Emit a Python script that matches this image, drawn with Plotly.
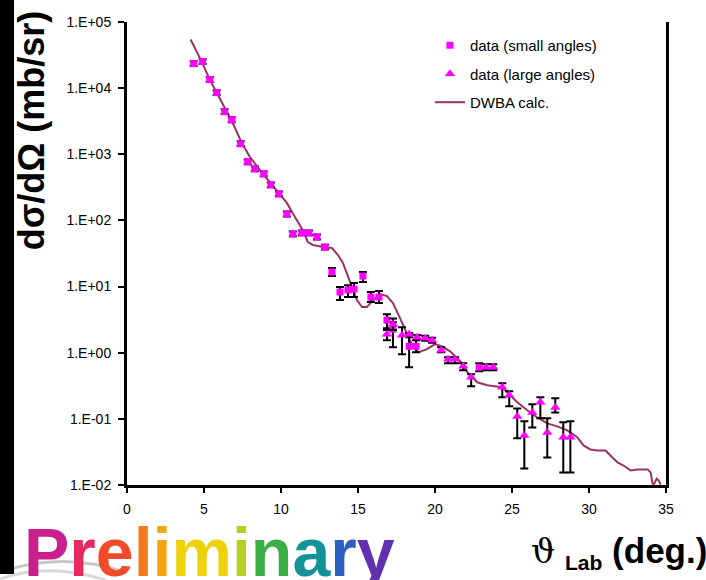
import plotly.graph_objects as go

# --- measured cross sections, small-angle setting ---
small_theta = [4.33, 4.91, 5.37, 5.82, 6.34, 6.80, 7.38, 7.84, 8.30, 8.88,
               9.34, 9.86, 10.38, 10.77, 11.35, 11.81, 12.33, 12.85, 13.31, 13.83,
               14.35, 14.74, 15.32, 15.84, 16.36, 16.88, 17.27, 18.32, 18.77, 22.87]
small_xs = [23500, 25200, 13500, 8550, 4400, 3330, 1440, 769, 603, 507,
            345, 252, 125, 62.4, 64.7, 64.7, 56.2, 39.6, 16.6, 8.26,
            8.85, 9.16, 14.4, 6.93, 6.93, 3.11, 2.27, 1.25, 1.25, 0.603]
small_lo = [21600, 23200, 12400, 7870, 4050, 3060, 1330, 707, 555, 466,
            317, 232, 115, 57.4, 59.5, 59.5, 51.7, 36.4, 14.4, 6.24,
            6.93, 6.93, 11.7, 5.82, 5.62, 2.35, 1.21, 0.603, 1.02, 0.525]
small_hi = [25500, 27400, 14700, 9300, 4780, 3620, 1570, 836, 656, 551,
            375, 274, 136, 67.8, 70.3, 70.3, 61.1, 43.0, 19.1, 9.83,
            10.5, 11.3, 16.6, 8.26, 8.55, 3.83, 2.90, 1.97, 1.55, 0.694]

# --- measured cross sections, large-angle setting ---
large_theta = [16.88, 17.27, 17.86, 18.32, 18.84, 19.36, 19.81, 20.40, 20.85, 21.31,
               21.83, 22.35, 23.32, 23.78, 24.37, 24.82, 25.34, 25.80, 26.32, 26.84,
               27.29, 27.81, 28.33, 28.79]
large_xs = [1.91, 2.70, 1.84, 1.91, 1.72, 1.66, 1.55, 1.09, 0.798, 0.798,
            0.624, 0.426, 0.603, 0.603, 0.300, 0.227, 0.109, 0.0562, 0.125, 0.178,
            0.0624, 0.149, 0.0525, 0.0525]
large_lo = [1.55, 2.2, 0.949, 1.72, 1.58, 1.52, 1.42, 1.02, 0.694, 0.694,
            0.543, 0.311, 0.543, 0.543, 0.212, 0.155, 0.0507, 0.0178, 0.0743, 0.102,
            0.0261, 0.125, 0.0155, 0.0155]
large_hi = [2.2, 3.3, 2.43, 1.97, 1.86, 1.80, 1.68, 1.21, 0.855, 0.855,
            0.694, 0.472, 0.67, 0.67, 0.345, 0.261, 0.144, 0.0917, 0.166, 0.212,
            0.102, 0.205, 0.0885, 0.0917]

# --- DWBA calculation ---
dwba_theta = [4.13, 4.85, 5.37, 5.89, 6.47, 6.86, 7.45, 7.97, 8.62, 9.14,
              9.72, 10.38, 10.90, 11.22, 11.55, 11.74, 12.07, 12.72, 13.31, 13.70,
              14.02, 14.35, 14.61, 14.93, 15.26, 15.58, 15.97, 16.43, 16.88, 17.27,
              17.73, 18.18, 18.57, 18.96, 19.48, 20.00, 20.46, 20.98, 21.64, 22.16,
              22.74, 23.39, 23.91, 24.37, 24.76, 25.34, 25.99, 26.64, 27.29, 27.94,
              28.59, 29.25, 29.64, 30.09, 30.55, 31.07, 31.52, 31.85, 32.24, 32.70,
              33.15, 33.81, 34.00, 34.13, 34.20, 34.40, 34.53, 34.65]
dwba_xs = [54300, 25200, 13500, 7980, 4260, 3000, 1490, 916, 582, 411,
           290, 184, 113, 85.5, 60.3, 47.2, 42.6, 39.6, 38.3, 30.0,
           22.7, 13.9, 9.83, 6.24, 4.89, 4.89, 6.24, 7.70, 7.18, 5.62,
           3.33, 1.91, 1.21, 1.02, 1.13, 1.35, 1.25, 1.05, 0.744, 0.489,
           0.357, 0.322, 0.311, 0.300, 0.243, 0.178, 0.135, 0.105, 0.0855, 0.0769,
           0.0670, 0.0525, 0.0397, 0.0345, 0.0333, 0.0333, 0.0261, 0.0219, 0.0197, 0.0166,
           0.0172, 0.0172, 0.0155, 0.0105, 0.0101, 0.0125, 0.0117, 0.0101]

x_ticks = [0, 5, 10, 15, 20, 25, 30, 35]
y_ticks = [1e-2, 1e-1, 1e0, 1e1, 1e2, 1e3, 1e4, 1e5]
y_tick_text = ["1.E-02", "1.E-01", "1.E+00", "1.E+01", "1.E+02", "1.E+03", "1.E+04", "1.E+05"]

title_letters = list("Preliminary")
title_colors = ["#c8208c", "#e8285e", "#f04c2c", "#f47a20", "#f6a412", "#ecd20a",
                "#b4d022", "#3cae48", "#14929a", "#2a62c0", "#6232ae"]

MARK = "#ff00ff"
LINE = "#993366"
FONT = "Liberation Sans, Arial, sans-serif"


def errs(vals, lo, hi):
    plus = [h - v for v, h in zip(vals, hi)]
    minus = [v - l for v, l in zip(vals, lo)]
    return dict(type="data", symmetric=False, array=plus, arrayminus=minus,
                color="black", thickness=2, width=4)


fig = go.Figure()

fig.add_trace(go.Scatter(
    x=dwba_theta, y=dwba_xs, mode="lines", name="DWBA calc.",
    line=dict(color=LINE, width=2), legendrank=3, legendgroup="c"))

fig.add_trace(go.Scatter(
    x=small_theta, y=small_xs, mode="markers", name="data (small angles)",
    marker=dict(symbol="square", size=7, color=MARK),
    error_y=errs(small_xs, small_lo, small_hi), legendrank=1, legendgroup="a"))

fig.add_trace(go.Scatter(
    x=large_theta, y=large_xs, mode="markers", name="data (large angles)",
    marker=dict(symbol="triangle-up", size=9, color=MARK),
    error_y=errs(large_xs, large_lo, large_hi), legendrank=2, legendgroup="b"))

fig.update_xaxes(
    range=[0, 35], tickvals=x_ticks, showgrid=False, zeroline=False,
    showline=True, linecolor="black", linewidth=3, mirror=False,
    ticks="outside", ticklen=5, tickwidth=1.5, tickcolor="black",
    ticklabelstandoff=4,
    tickfont=dict(family=FONT, size=14, color="black"))

fig.update_yaxes(
    type="log", range=[-2, 5], tickvals=y_ticks, ticktext=y_tick_text,
    showgrid=False, zeroline=False,
    showline=True, linecolor="black", linewidth=3, mirror=True,
    ticks="outside", ticklen=6, tickwidth=1.5, tickcolor="black",
    ticklabelstandoff=4,
    tickfont=dict(family=FONT, size=14, color="black"))

prelim = "".join(f"<span style='color:{c}'><b>{ch}</b></span>"
                 for ch, c in zip(title_letters, title_colors))

fig.update_layout(
    width=706, height=580,
    margin=dict(l=127, r=40, t=22, b=95, autoexpand=False),
    paper_bgcolor="white", plot_bgcolor="white",
    font=dict(family=FONT, color="black"),
    showlegend=True,
    legend=dict(x=0.562, y=0.985, xanchor="left", yanchor="top",
                bgcolor="rgba(0,0,0,0)", font=dict(family=FONT, size=15, color="black"),
                traceorder="grouped", tracegroupgap=6),
    shapes=[
        # faint grey swoosh in the lower-left corner of the page
        dict(type="path", xref="paper", yref="paper",
             path="M -0.24,-0.19 Q -0.12,-0.14 0.0,-0.19",
             line=dict(color="#c8c8c8", width=3), layer="above"),
        dict(type="path", xref="paper", yref="paper",
             path="M -0.24,-0.205 Q -0.15,-0.165 -0.04,-0.205",
             line=dict(color="#d8d8d8", width=3), layer="above"),
    ],
    annotations=[
        # dark strip along the left edge of the page
        dict(text="<span style='color:black'>|</span>", xref="paper", yref="paper",
             x=-0.2356, y=0.5, xanchor="left", yanchor="middle",
             width=14, height=640, bgcolor="black", borderpad=0, borderwidth=0,
             showarrow=False, font=dict(size=10, color="black")),
        dict(text="<b>dσ/dΩ (mb/sr)</b>", xref="paper", yref="paper",
             x=-0.178, y=0.764, xanchor="center", yanchor="middle",
             textangle=-90, showarrow=False,
             font=dict(family=FONT, size=36, color="black")),
        dict(text=prelim, xref="paper", yref="paper",
             x=-0.1948, y=-0.058, xanchor="left", yanchor="top",
             showarrow=False, font=dict(family=FONT, size=68)),
        dict(text="<span style='font-family:DejaVu Serif;font-size:34px'>ϑ</span> "
                  "<sub><span style='font-size:21px'><b>Lab</b></span></sub>"
                  "<b> (deg.)</b>",
             xref="paper", yref="paper", x=1.079, y=-0.095,
             xanchor="right", yanchor="top", showarrow=False,
             font=dict(family=FONT, size=35, color="black")),
    ],
)

fig.write_html("out.html")
